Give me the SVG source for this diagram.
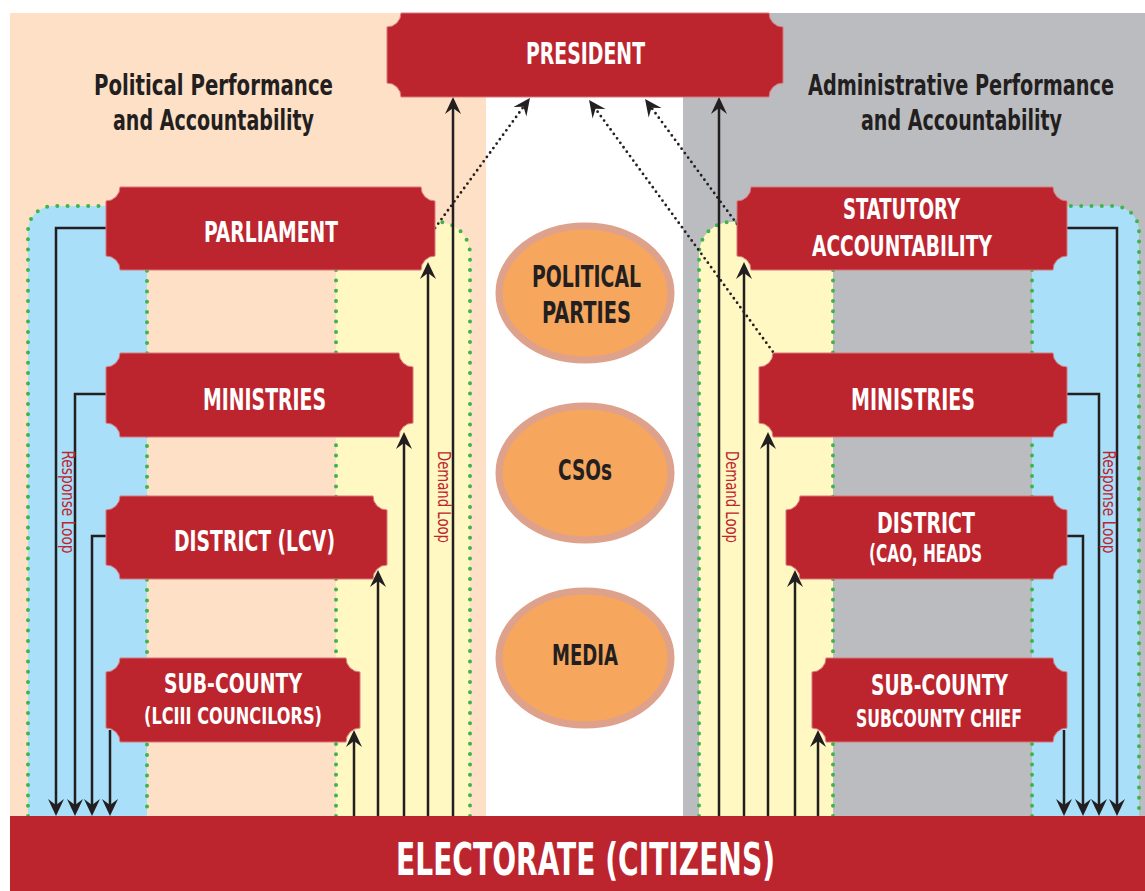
<svg xmlns="http://www.w3.org/2000/svg" width="1145" height="891" viewBox="0 0 1145 891">
  <style>
    .lbl { font-family: "Liberation Sans Narrow", "DejaVu Sans Condensed", "Liberation Sans", sans-serif; font-weight: bold; text-anchor: middle; }
    .white { fill: #ffffff; }
    .dark { fill: #231f20; }
    .box { fill: #bd252e; stroke: #d9767b; stroke-width: 1; }
    .oval { fill: #f6a65d; stroke: #dea18c; stroke-width: 7; }
    .zone { stroke: #3db54a; stroke-width: 4; stroke-dasharray: 0 10.3; stroke-linecap: round; fill: none; }
    .ln { fill: none; stroke: #231f20; stroke-width: 2.5; }
    .dot { fill: none; stroke: #231f20; stroke-width: 2.8; stroke-dasharray: 0 5.5; stroke-linecap: round; }
    .loop { font-family: "Liberation Sans Narrow", "DejaVu Sans Condensed", "Liberation Sans", sans-serif; font-size: 17px; fill: #be252f; text-anchor: middle; }
  </style>
  <defs>
    <marker id="ah" markerUnits="userSpaceOnUse" viewBox="-14 -9 20 18" markerWidth="20" markerHeight="18" refX="0" refY="0" orient="auto" overflow="visible">
      <path d="M4,0 L-13,-8 L-7,0 L-13,8 Z" fill="#231f20"/>
    </marker>
  </defs>

  <!-- panel backgrounds -->
  <rect x="0" y="0" width="1145" height="891" fill="#ffffff"/>
  <rect x="10" y="13" width="476" height="803" fill="#fde0c5"/>
  <rect x="683" y="13" width="462" height="803" fill="#bbbcbf"/>

  <!-- response / demand zones -->
  <g id="zones">
    <path d="M28,816 V231 A25 25 0 0 1 53,206 H147 V816 Z" fill="#a9dff8"/>
    <path class="zone" d="M28,816 V231 A25 25 0 0 1 53,206 H147 V816"/>
    <path d="M336,816 V222 H438 A32 32 0 0 1 470,254 V816 Z" fill="#fff8c2"/>
    <path class="zone" d="M336,816 V222 H438 A32 32 0 0 1 470,254 V816"/>
    <path d="M833,816 V222 H731 A32 32 0 0 0 699,254 V816 Z" fill="#fff8c2"/>
    <path class="zone" d="M833,816 V222 H731 A32 32 0 0 0 699,254 V816"/>
    <path d="M1032,816 V206 H1114 A25 25 0 0 1 1139,231 V816 Z" fill="#a9dff8"/>
    <path class="zone" d="M1032,816 V206 H1114 A25 25 0 0 1 1139,231 V816"/>
  </g>

  <!-- connectors -->
  <g id="connectors">
    <!-- response loop, political side -->
    <path class="ln" d="M106,228 H56 V812" marker-end="url(#ah)"/>
    <path class="ln" d="M106,394 H75 V812" marker-end="url(#ah)"/>
    <path class="ln" d="M106,536 H92 V812" marker-end="url(#ah)"/>
    <path class="ln" d="M110,730 V812" marker-end="url(#ah)"/>
    <!-- demand loop, political side -->
    <path class="ln" d="M354,816 V734" marker-end="url(#ah)"/>
    <path class="ln" d="M378,816 V574" marker-end="url(#ah)"/>
    <path class="ln" d="M404,816 V436" marker-end="url(#ah)"/>
    <path class="ln" d="M428,816 V266" marker-end="url(#ah)"/>
    <path class="ln" d="M453,816 V101" marker-end="url(#ah)"/>
    <!-- demand loop, administrative side -->
    <path class="ln" d="M719,816 V101" marker-end="url(#ah)"/>
    <path class="ln" d="M744,816 V266" marker-end="url(#ah)"/>
    <path class="ln" d="M768,816 V436" marker-end="url(#ah)"/>
    <path class="ln" d="M795,816 V574" marker-end="url(#ah)"/>
    <path class="ln" d="M818,816 V734" marker-end="url(#ah)"/>
    <!-- response loop, administrative side -->
    <path class="ln" d="M1067,228 H1117 V812" marker-end="url(#ah)"/>
    <path class="ln" d="M1067,394 H1099 V812" marker-end="url(#ah)"/>
    <path class="ln" d="M1067,536 H1083 V812" marker-end="url(#ah)"/>
    <path class="ln" d="M1064,730 V812" marker-end="url(#ah)"/>
    <!-- dotted links to the president -->
    <path class="dot" d="M435,228 L527.6,101.2" marker-end="url(#ah)"/>
    <path class="dot" d="M776,356 L591.4,103.2" marker-end="url(#ah)"/>
    <path class="dot" d="M737,224 L647.4,102.2" marker-end="url(#ah)"/>
  </g>

  <!-- loop labels -->
  <text class="loop" transform="translate(62,502) rotate(90)" textLength="103" lengthAdjust="spacingAndGlyphs">Response Loop</text>
  <text class="loop" transform="translate(1103,502) rotate(90)" textLength="103" lengthAdjust="spacingAndGlyphs">Response Loop</text>
  <text class="loop" transform="translate(438,497) rotate(90)" textLength="92" lengthAdjust="spacingAndGlyphs">Demand Loop</text>
  <text class="loop" transform="translate(726,497) rotate(90)" textLength="92" lengthAdjust="spacingAndGlyphs">Demand Loop</text>

  <!-- panel titles -->
  <g id="title-political">
    <text class="lbl dark" x="213.5" y="95" font-size="29" textLength="239" lengthAdjust="spacingAndGlyphs">Political Performance</text>
    <text class="lbl dark" x="213.5" y="130" font-size="29" textLength="201" lengthAdjust="spacingAndGlyphs">and Accountability</text>
  </g>
  <g id="title-administrative">
    <text class="lbl dark" x="1114" y="95" font-size="29" text-anchor="end" style="text-anchor:end" textLength="306" lengthAdjust="spacingAndGlyphs">Administrative Performance</text>
    <text class="lbl dark" x="961.5" y="130" font-size="29" textLength="201" lengthAdjust="spacingAndGlyphs">and Accountability</text>
  </g>

  <!-- nodes -->
  <g id="president">
    <path class="box" d="M401,13 H769 A14 14 0 0 0 783,27 V83 A14 14 0 0 0 769,97 H401 A14 14 0 0 0 387,83 V27 A14 14 0 0 0 401,13 Z"/>
    <text class="lbl white" x="585.5" y="64" font-size="30" textLength="119" lengthAdjust="spacingAndGlyphs">PRESIDENT</text>
  </g>
  <g id="parliament">
    <path class="box" d="M120,187 H421 A14 14 0 0 0 435,201 V256 A14 14 0 0 0 421,270 H120 A14 14 0 0 0 106,256 V201 A14 14 0 0 0 120,187 Z"/>
    <text class="lbl white" x="271" y="242" font-size="29" textLength="134" lengthAdjust="spacingAndGlyphs">PARLIAMENT</text>
  </g>
  <g id="ministries-political">
    <path class="box" d="M120,353 H399 A14 14 0 0 0 413,367 V423 A14 14 0 0 0 399,437 H120 A14 14 0 0 0 106,423 V367 A14 14 0 0 0 120,353 Z"/>
    <text class="lbl white" x="264.5" y="410" font-size="30" textLength="123" lengthAdjust="spacingAndGlyphs">MINISTRIES</text>
  </g>
  <g id="district-political">
    <path class="box" d="M120,496 H373 A14 14 0 0 0 387,510 V565 A14 14 0 0 0 373,579 H120 A14 14 0 0 0 106,565 V510 A14 14 0 0 0 120,496 Z"/>
    <text class="lbl white" x="254.5" y="551" font-size="29" textLength="161" lengthAdjust="spacingAndGlyphs">DISTRICT (LCV)</text>
  </g>
  <g id="subcounty-political">
    <path class="box" d="M120,658 H346 A14 14 0 0 0 360,672 V728 A14 14 0 0 0 346,742 H120 A14 14 0 0 0 106,728 V672 A14 14 0 0 0 120,658 Z"/>
    <text class="lbl white" x="233" y="693" font-size="27" textLength="138" lengthAdjust="spacingAndGlyphs">SUB-COUNTY</text>
    <text class="lbl white" x="233" y="724" font-size="23" textLength="178" lengthAdjust="spacingAndGlyphs">(LCIII COUNCILORS)</text>
  </g>
  <g id="statutory">
    <path class="box" d="M751,187 H1053 A14 14 0 0 0 1067,201 V256 A14 14 0 0 0 1053,270 H751 A14 14 0 0 0 737,256 V201 A14 14 0 0 0 751,187 Z"/>
    <text class="lbl white" x="901.5" y="219" font-size="29" textLength="117" lengthAdjust="spacingAndGlyphs">STATUTORY</text>
    <text class="lbl white" x="902" y="256" font-size="29" textLength="180" lengthAdjust="spacingAndGlyphs">ACCOUNTABILITY</text>
  </g>
  <g id="ministries-administrative">
    <path class="box" d="M773,353 H1053 A14 14 0 0 0 1067,367 V423 A14 14 0 0 0 1053,437 H773 A14 14 0 0 0 759,423 V367 A14 14 0 0 0 773,353 Z"/>
    <text class="lbl white" x="913" y="410" font-size="30" textLength="124" lengthAdjust="spacingAndGlyphs">MINISTRIES</text>
  </g>
  <g id="district-administrative">
    <path class="box" d="M800,496 H1053 A14 14 0 0 0 1067,510 V565 A14 14 0 0 0 1053,579 H800 A14 14 0 0 0 786,565 V510 A14 14 0 0 0 800,496 Z"/>
    <text class="lbl white" x="926" y="533" font-size="29" textLength="98" lengthAdjust="spacingAndGlyphs">DISTRICT</text>
    <text class="lbl white" x="925.5" y="562" font-size="24" textLength="113" lengthAdjust="spacingAndGlyphs">(CAO, HEADS</text>
  </g>
  <g id="subcounty-administrative">
    <path class="box" d="M826,658 H1053 A14 14 0 0 0 1067,672 V728 A14 14 0 0 0 1053,742 H826 A14 14 0 0 0 812,728 V672 A14 14 0 0 0 826,658 Z"/>
    <text class="lbl white" x="939.5" y="695" font-size="28" textLength="137" lengthAdjust="spacingAndGlyphs">SUB-COUNTY</text>
    <text class="lbl white" x="939" y="727" font-size="24" textLength="166" lengthAdjust="spacingAndGlyphs">SUBCOUNTY CHIEF</text>
  </g>

  <!-- civil society actors -->
  <g id="political-parties">
    <ellipse class="oval" cx="585" cy="293" rx="86" ry="67"/>
    <text class="lbl dark" x="586.5" y="287" font-size="31" textLength="109" lengthAdjust="spacingAndGlyphs">POLITICAL</text>
    <text class="lbl dark" x="586.5" y="323" font-size="31" textLength="89" lengthAdjust="spacingAndGlyphs">PARTIES</text>
  </g>
  <g id="csos">
    <ellipse class="oval" cx="585" cy="473" rx="86" ry="67"/>
    <text class="lbl dark" x="585" y="480" font-size="29" textLength="54" lengthAdjust="spacingAndGlyphs">CSOs</text>
  </g>
  <g id="media">
    <ellipse class="oval" cx="585" cy="658" rx="86" ry="67"/>
    <text class="lbl dark" x="585" y="665" font-size="28" textLength="66" lengthAdjust="spacingAndGlyphs">MEDIA</text>
  </g>

  <g id="electorate">
    <rect x="10" y="816" width="1135" height="75" fill="#bd252e"/>
    <text class="lbl white" x="585.5" y="875" font-size="44" textLength="379" lengthAdjust="spacingAndGlyphs">ELECTORATE (CITIZENS)</text>
  </g>
</svg>
